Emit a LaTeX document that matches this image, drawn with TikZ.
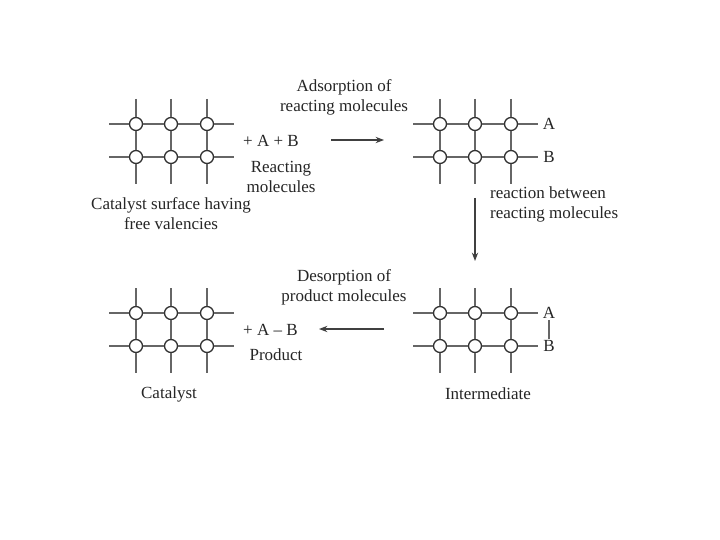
\documentclass[tikz,border=0pt]{standalone}
\usepackage{fontspec}
\setmainfont{Liberation Serif}
\usepackage{tikz}
\usetikzlibrary{arrows.meta,positioning,calc}

\tikzset{
  site/.style={circle,draw=black!80,fill=white,line width=1.3pt,minimum size=13pt,inner sep=0pt},
  bond/.style={line width=1.4pt,draw=black!60},
  lbl/.style={font=\fontsize{17}{20}\selectfont,text=black!85,inner sep=0pt,align=center},
  step arrow/.style={->,>=Stealth,line width=1.2pt,draw=black!75},
}

% one surface: sites #1-1-1 ... #1-2-3 with origin (#2,#3)
\newcommand{\surface}[3]{
  \foreach \c/\dx in {1/0,2/35,3/71}{
    \foreach \r/\dy in {1/0,2/33}{
      \node[site] (#1-\r-\c) at (#2+\dx,#3+\dy) {};
    }
    \coordinate (#1-up-\c) at (#2+\dx,#3-25);
    \coordinate (#1-dn-\c) at (#2+\dx,#3+60);
    \draw[bond] (#1-up-\c) -- (#1-1-\c);
    \draw[bond] (#1-1-\c) -- (#1-2-\c);
    \draw[bond] (#1-2-\c) -- (#1-dn-\c);
  }
  \foreach \r/\dy in {1/0,2/33}{
    \coordinate (#1-l-\r) at (#2-27,#3+\dy);
    \coordinate (#1-r-\r) at (#2+98,#3+\dy);
    \draw[bond] (#1-l-\r) -- (#1-\r-1);
    \draw[bond] (#1-\r-1) -- (#1-\r-2);
    \draw[bond] (#1-\r-2) -- (#1-\r-3);
    \draw[bond] (#1-\r-3) -- (#1-r-\r);
  }
}

\begin{document}
\begin{tikzpicture}[x=1pt,y=-1pt]
\useasboundingbox[fill=white] (0,0) rectangle (720,540);

\surface{free}{136}{124}
\surface{ads}{440}{124}
\surface{cat}{136}{313}
\surface{inter}{440}{313}

% top row
\node[lbl] (adsorb) at (344,97.5) {Adsorption of\\reacting molecules};
\node[lbl,anchor=west] (plusAB) at (243,141) {+ A + B};
\node[lbl] (reacting) at (281,176.5) {Reacting\\molecules};
\node[lbl] (surf) at (171,214) {Catalyst surface having\\free valencies};
\node[lbl] (adsA) at (549,124) {A};
\node[lbl] (adsB) at (549,157) {B};
\node[lbl,anchor=west,align=left] (between) at (490,204.5) {reaction between\\reacting molecules};

% bottom row
\node[lbl] (desorb) at (344,287) {Desorption of\\product molecules};
\node[lbl,anchor=west] (plusAmB) at (243,330) {+ A -- B};
\node[lbl] (product) at (276,355) {Product};
\node[lbl] (catalyst) at (169,394) {Catalyst};
\node[lbl] (intermediate) at (488,394) {Intermediate};
\node[lbl] (intA) at (549,313) {A};
\node[lbl] (intB) at (549,346) {B};

\coordinate (a1) at (331,140);
\coordinate (a2) at (384,140);
\coordinate (b1) at (475,198);
\coordinate (b2) at (475,261);
\coordinate (c1) at (384,329);
\coordinate (c2) at (319,329);
\draw[step arrow] (a1) -- (a2);
\draw[step arrow] (b1) -- (b2);
\draw[step arrow] (c1) -- (c2);
\draw[bond,shorten >=1pt,shorten <=1pt] (intA) -- (intB);
\end{tikzpicture}
\end{document}
